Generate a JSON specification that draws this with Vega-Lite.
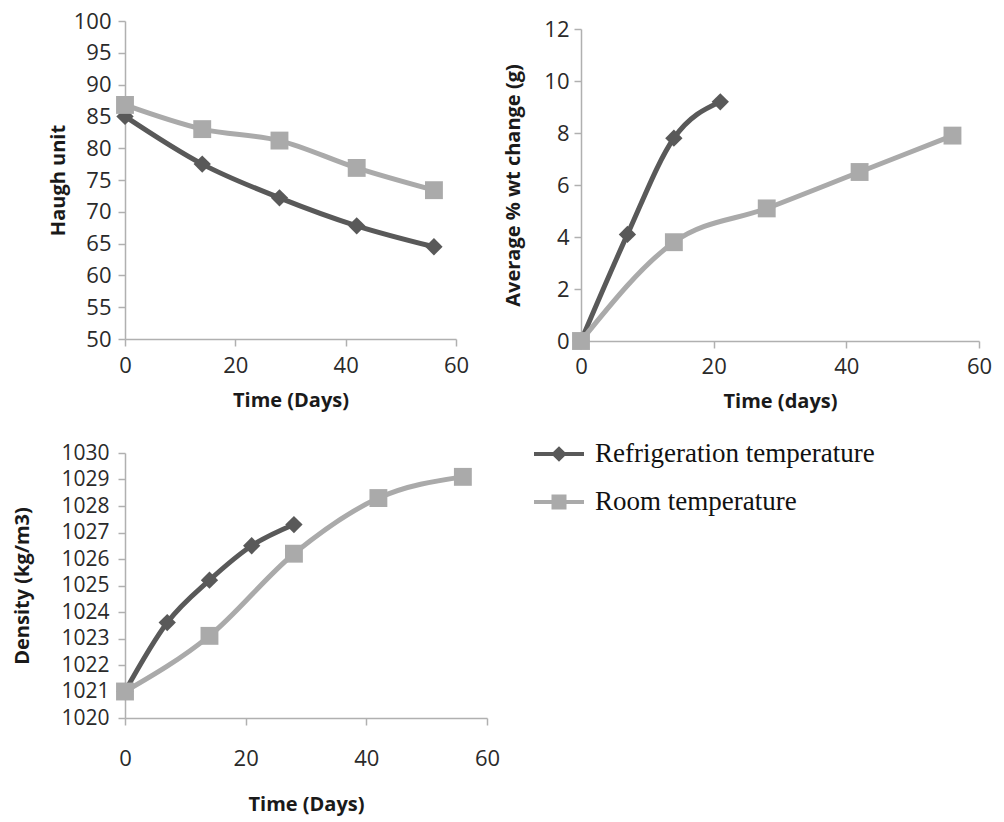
{
  "$schema": "https://vega.github.io/schema/vega-lite/v6.json",
  "background": "white",
  "padding": {"left": 12, "top": 10, "right": 5, "bottom": 5},
  "datasets": {
    "haugh": [
      {"day": 0, "value": 85.0, "series": "Refrigeration temperature"},
      {"day": 14, "value": 77.5, "series": "Refrigeration temperature"},
      {"day": 28, "value": 72.2, "series": "Refrigeration temperature"},
      {"day": 42, "value": 67.8, "series": "Refrigeration temperature"},
      {"day": 56, "value": 64.5, "series": "Refrigeration temperature"},
      {"day": 0, "value": 86.8, "series": "Room temperature"},
      {"day": 14, "value": 83.0, "series": "Room temperature"},
      {"day": 28, "value": 81.2, "series": "Room temperature"},
      {"day": 42, "value": 76.9, "series": "Room temperature"},
      {"day": 56, "value": 73.4, "series": "Room temperature"}
    ],
    "weight": [
      {"day": 0, "value": 0, "series": "Refrigeration temperature"},
      {"day": 7, "value": 4.1, "series": "Refrigeration temperature"},
      {"day": 14, "value": 7.8, "series": "Refrigeration temperature"},
      {"day": 21, "value": 9.2, "series": "Refrigeration temperature"},
      {"day": 0, "value": 0, "series": "Room temperature"},
      {"day": 14, "value": 3.8, "series": "Room temperature"},
      {"day": 28, "value": 5.1, "series": "Room temperature"},
      {"day": 42, "value": 6.5, "series": "Room temperature"},
      {"day": 56, "value": 7.9, "series": "Room temperature"}
    ],
    "density": [
      {"day": 0, "value": 1021.0, "series": "Refrigeration temperature"},
      {"day": 7, "value": 1023.6, "series": "Refrigeration temperature"},
      {"day": 14, "value": 1025.2, "series": "Refrigeration temperature"},
      {"day": 21, "value": 1026.5, "series": "Refrigeration temperature"},
      {"day": 28, "value": 1027.3, "series": "Refrigeration temperature"},
      {"day": 0, "value": 1021.0, "series": "Room temperature"},
      {"day": 14, "value": 1023.1, "series": "Room temperature"},
      {"day": 28, "value": 1026.2, "series": "Room temperature"},
      {"day": 42, "value": 1028.3, "series": "Room temperature"},
      {"day": 56, "value": 1029.1, "series": "Room temperature"}
    ]
  },
  "columns": 2,
  "bounds": "flush",
  "align": "each",
  "spacing": {"row": 112, "column": 94},
  "concat": [
    {
      "width": 331,
      "height": 318,
      "data": {"name": "haugh"},
      "encoding": {
        "x": {"field": "day", "type": "quantitative", "scale": {"domain": [0, 60], "nice": false},
              "axis": {"values": [0, 20, 40, 60], "title": "Time (Days)", "labelPadding": 9, "titlePadding": 14}},
        "y": {"field": "value", "type": "quantitative", "scale": {"domain": [50, 100], "nice": false, "zero": false},
              "axis": {"values": [50, 55, 60, 65, 70, 75, 80, 85, 90, 95, 100], "format": "d", "title": "Haugh unit", "titlePadding": 5}},
        "color": {"field": "series", "type": "nominal"}
      },
      "layer": [
        {"mark": {"type": "line", "interpolate": "monotone", "strokeWidth": 5}},
        {"transform": [{"filter": "datum.series === 'Refrigeration temperature'"}],
         "mark": {"type": "point", "filled": true, "opacity": 1, "shape": "diamond", "size": 300}},
        {"transform": [{"filter": "datum.series === 'Room temperature'"}],
         "mark": {"type": "point", "filled": true, "opacity": 1, "shape": "square", "size": 320}}
      ]
    },
    {
      "width": 398,
      "height": 320,
      "data": {"name": "weight"},
      "encoding": {
        "x": {"field": "day", "type": "quantitative", "scale": {"domain": [0, 60], "nice": false},
              "axis": {"values": [0, 20, 40, 60], "title": "Time (days)", "labelPadding": 8, "titlePadding": 14}},
        "y": {"field": "value", "type": "quantitative", "scale": {"domain": [0, 12], "nice": false, "range": [320, 8]},
              "axis": {"values": [0, 2, 4, 6, 8, 10, 12], "format": "d", "title": "Average % wt change (g)", "titlePadding": 20, "labelPadding": 5}},
        "color": {"field": "series", "type": "nominal"}
      },
      "layer": [
        {"mark": {"type": "line", "interpolate": "monotone", "strokeWidth": 5}},
        {"transform": [{"filter": "datum.series === 'Refrigeration temperature'"}],
         "mark": {"type": "point", "filled": true, "opacity": 1, "shape": "diamond", "size": 300}},
        {"transform": [{"filter": "datum.series === 'Room temperature'"}],
         "mark": {"type": "point", "filled": true, "opacity": 1, "shape": "square", "size": 320}}
      ]
    },
    {
      "width": 362,
      "height": 265,
      "data": {"name": "density"},
      "encoding": {
        "x": {"field": "day", "type": "quantitative", "scale": {"domain": [0, 60], "nice": false},
              "axis": {"values": [0, 20, 40, 60], "title": "Time (Days)", "labelPadding": 23, "titlePadding": 25}},
        "y": {"field": "value", "type": "quantitative", "scale": {"domain": [1020, 1030], "nice": false, "zero": false},
              "axis": {"values": [1020, 1021, 1022, 1023, 1024, 1025, 1026, 1027, 1028, 1029, 1030], "format": "d", "title": "Density (kg/m3)", "titlePadding": 28, "labelPadding": 9, "labelFontSize": 21}},
        "color": {
          "field": "series", "type": "nominal",
          "scale": {"domain": ["Refrigeration temperature", "Room temperature"], "range": ["#595959", "#aaaaaa"]},
          "legend": {
            "title": null,
            "orient": "none",
            "legendX": 407,
            "legendY": 406,
            "symbolSize": 2500,
            "symbolStrokeWidth": 4,
            "labelFont": "Liberation Serif",
            "labelFontSize": 27,
            "labelColor": "#111111",
            "labelOffset": 9,
            "labelLimit": 0,
            "rowPadding": 8,
            "padding": 0,
            "encode": {
              "symbols": {
                "update": {
                  "shape": {"signal": "datum.value === 'Room temperature' ? 'M-1,0H1M-0.22,-0.22H0.22V0.22H-0.22Z' : 'M-1,0H1M-0.2,0L0,-0.2L0.2,0L0,0.2Z'"},
                  "fill": {"scale": "color", "field": "value"},
                  "stroke": {"scale": "color", "field": "value"},
                  "strokeWidth": {"value": 4},
                  "opacity": {"value": 1}
                }
              }
            }
          }
        }
      },
      "layer": [
        {"mark": {"type": "line", "interpolate": "monotone", "strokeWidth": 5}},
        {"transform": [{"filter": "datum.series === 'Refrigeration temperature'"}],
         "mark": {"type": "point", "filled": true, "opacity": 1, "shape": "diamond", "size": 300}},
        {"transform": [{"filter": "datum.series === 'Room temperature'"}],
         "mark": {"type": "point", "filled": true, "opacity": 1, "shape": "square", "size": 320}}
      ]
    }
  ],
  "config": {
    "view": {"stroke": null},
    "axis": {
      "grid": false,
      "domainColor": "#b0b0b0",
      "domainWidth": 1.5,
      "tickColor": "#b0b0b0",
      "tickWidth": 1.5,
      "tickSize": 7,
      "labelFont": "Open Sans",
      "labelFontSize": 22,
      "labelColor": "#2a2a2a",
      "labelPadding": 7,
      "titleFont": "Open Sans",
      "titleFontSize": 20,
      "titleFontWeight": "bold",
      "titleColor": "#1a1a1a",
      "labelFlush": false,
      "labelOverlap": false
    }
  }
}
